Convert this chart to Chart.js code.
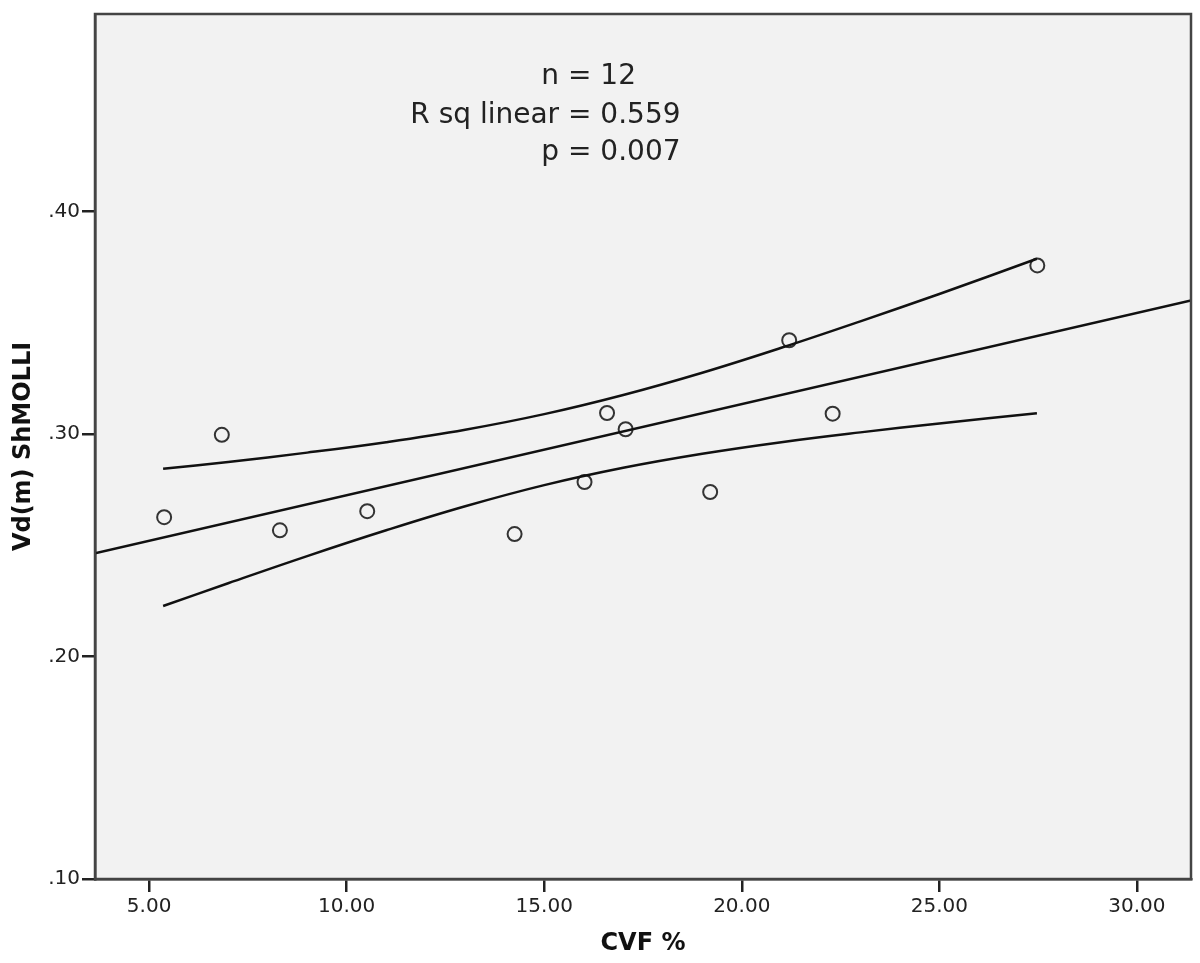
<!DOCTYPE html>
<html>
<head>
<meta charset="utf-8">
<script src="https://cdn.jsdelivr.net/npm/chart.js@4.4.1/dist/chart.umd.min.js"></script>
<style>
  html, body { margin: 0; padding: 0; background: #ffffff; }
  #wrap { width: 1200px; height: 963px; position: relative; }
</style>
</head>
<body>
<div id="wrap"><canvas id="c" width="1200" height="963"></canvas></div>
<script>
// ---- Data ----
const cvfPercent = [5.38, 6.84, 8.31, 10.52, 14.25, 16.02, 16.59, 17.06, 19.20, 21.20, 22.30, 27.48];
const vdShmolli  = [0.2626, 0.2996, 0.2567, 0.2653, 0.2550, 0.2784, 0.3094, 0.3021, 0.2739, 0.3421, 0.3091, 0.3757];

// Linear fit line (endpoints as read at the plot edges)
const fitX = [3.63, 31.37];
const fitY = [0.2464, 0.3600];

// 95% confidence band for the mean
const bandX     = [5.354, 7.00, 9.00, 11.00, 13.00, 15.00, 17.00, 19.00, 21.00, 23.00, 25.00, 27.47];
const bandUpper = [0.2843, 0.2874, 0.2916, 0.2963, 0.3019, 0.3089, 0.3175, 0.3275, 0.3387, 0.3506, 0.3629, 0.3787];
const bandLower = [0.2227, 0.2329, 0.2451, 0.2567, 0.2675, 0.2770, 0.2848, 0.2911, 0.2963, 0.3007, 0.3047, 0.3093];

const xTicks = [5, 10, 15, 20, 25, 30];
const yTicks = [0.10, 0.20, 0.30, 0.40];
const xRange = [3.63, 31.37];
const yRange = [0.10, 0.4887];

const xTitle = 'CVF %';
const yTitle = 'Vd(m) ShMOLLI';
const statLabels = ['n', 'R sq linear', 'p'];
const statValues = ['12', '0.559', '0.007'];

// ---- Build datasets ----
const pts = (xs, ys) => xs.map((x, i) => ({ x: x, y: ys[i] }));

const plotBg = {
  id: 'plotBg',
  beforeDraw(chart) {
    const { ctx, chartArea: a } = chart;
    ctx.save();
    ctx.fillStyle = '#f2f2f2';
    ctx.fillRect(a.left, a.top, a.right - a.left, a.bottom - a.top);
    ctx.restore();
  },
  afterDraw(chart) {
    const { ctx, chartArea: a } = chart;
    ctx.save();
    ctx.strokeStyle = '#444444';
    ctx.lineWidth = 2.5;
    ctx.strokeRect(a.left, a.top, a.right - a.left, a.bottom - a.top);
    ctx.restore();
  }
};

const statsText = {
  id: 'statsText',
  afterDatasetsDraw(chart) {
    const { ctx } = chart;
    const eqX = 568;
    const ys = [77, 116, 153];
    ctx.save();
    ctx.font = '28px "DejaVu Sans"';
    ctx.fillStyle = '#222222';
    ctx.textBaseline = 'middle';
    const sp = ctx.measureText(' ').width;
    statLabels.forEach((lab, i) => {
      ctx.textAlign = 'right';
      ctx.fillText(lab, eqX - sp, ys[i]);
      ctx.textAlign = 'left';
      ctx.fillText('= ' + statValues[i], eqX, ys[i]);
    });
    ctx.restore();
  }
};

const lineStyle = {
  type: 'line',
  borderColor: '#111111',
  borderWidth: 2.5,
  pointRadius: 0,
  fill: false,
  showLine: true
};

new Chart(document.getElementById('c'), {
  type: 'scatter',
  data: {
    datasets: [
      Object.assign({}, lineStyle, { label: 'fit', data: pts(fitX, fitY), tension: 0 }),
      Object.assign({}, lineStyle, { label: 'upper', data: pts(bandX, bandUpper), tension: 0.4 }),
      Object.assign({}, lineStyle, { label: 'lower', data: pts(bandX, bandLower), tension: 0.4 }),
      {
        type: 'scatter',
        label: 'points',
        data: pts(cvfPercent, vdShmolli),
        pointStyle: 'circle',
        pointRadius: 7,
        pointBorderWidth: 2,
        borderColor: '#333333',
        backgroundColor: 'rgba(0,0,0,0)',
        pointBackgroundColor: 'rgba(0,0,0,0)'
      }
    ]
  },
  options: {
    responsive: false,
    devicePixelRatio: 1,
    animation: false,
    layout: { padding: { top: 14, right: 7, left: 0, bottom: 0 } },
    plugins: { legend: { display: false }, tooltip: { enabled: false } },
    scales: {
      x: {
        type: 'linear',
        position: 'bottom',
        min: xRange[0],
        max: xRange[1],
        afterBuildTicks(scale) { scale.ticks = xTicks.map(v => ({ value: v })); },
        afterFit(scale) { scale.height = 84; },
        ticks: {
          callback: v => Number(v).toFixed(2),
          color: '#222222',
          font: { family: 'DejaVu Sans', size: 20 },
          padding: 3,
          maxRotation: 0,
          autoSkip: false
        },
        grid: { drawOnChartArea: false, drawTicks: true, tickLength: 13, tickColor: '#222222', tickWidth: 2.5, lineWidth: 2.5 },
        border: { display: true, color: '#222222', width: 2.5 },
        title: {
          display: true,
          text: xTitle,
          color: '#111111',
          font: { family: 'DejaVu Sans', size: 24, weight: 'bold' },
          padding: { top: 0, bottom: 5 }
        }
      },
      y: {
        type: 'linear',
        min: yRange[0],
        max: yRange[1],
        afterBuildTicks(scale) { scale.ticks = yTicks.map(v => ({ value: v })); },
        afterFit(scale) { scale.width = 95; },
        ticks: {
          callback: v => Number(v).toFixed(2).replace(/^0/, ''),
          color: '#222222',
          font: { family: 'DejaVu Sans', size: 20 },
          padding: 2,
          autoSkip: false
        },
        grid: { drawOnChartArea: false, drawTicks: true, tickLength: 13, tickColor: '#222222', tickWidth: 2.5, lineWidth: 2.5 },
        border: { display: true, color: '#222222', width: 2.5 },
        title: {
          display: true,
          text: yTitle,
          color: '#111111',
          font: { family: 'DejaVu Sans', size: 24, weight: 'bold' },
          padding: { top: 9, bottom: 0 }
        }
      }
    }
  },
  plugins: [plotBg, statsText]
});
</script>
</body>
</html>
